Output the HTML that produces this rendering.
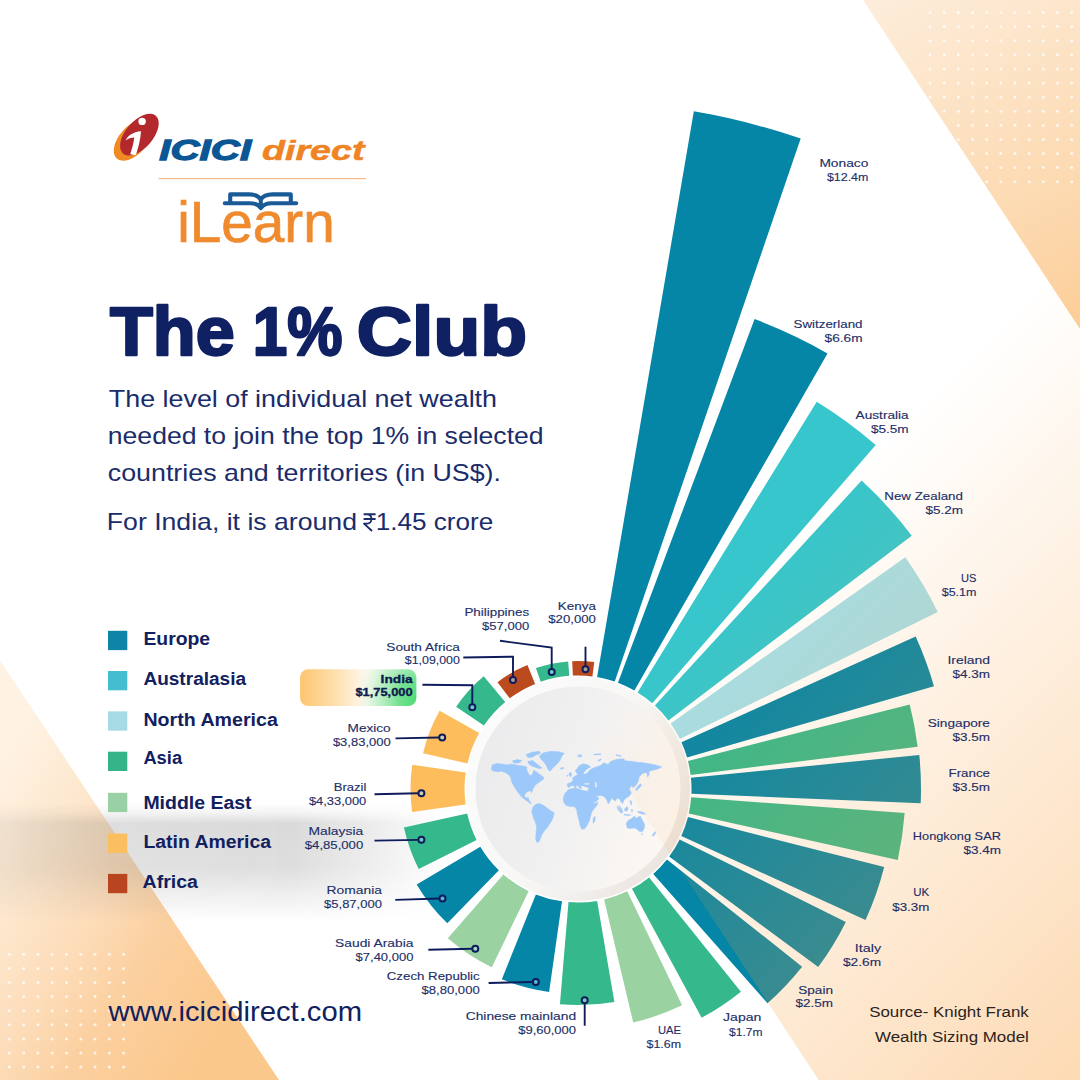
<!DOCTYPE html>
<html><head><meta charset="utf-8"><title>The 1% Club</title>
<style>
html,body{margin:0;padding:0;background:#fff;}
body{width:1080px;height:1080px;overflow:hidden;font-family:"Liberation Sans",sans-serif;}
svg{display:block;font-family:"Liberation Sans",sans-serif;}
</style></head><body>
<svg width="1080" height="1080" viewBox="0 0 1080 1080">
<defs>
<linearGradient id="gTR" gradientUnits="userSpaceOnUse" x1="900" y1="0" x2="1080" y2="330">
<stop offset="0" stop-color="#fdecd9"/><stop offset="1" stop-color="#fccf9a"/></linearGradient>
<linearGradient id="gBL" gradientUnits="userSpaceOnUse" x1="0" y1="760" x2="279" y2="940">
<stop offset="0" stop-color="#fff2e3"/><stop offset="0.3" stop-color="#fde6cb"/><stop offset="0.5" stop-color="#fddcb8"/><stop offset="0.68" stop-color="#fbd0a0"/><stop offset="1" stop-color="#fbc88c"/></linearGradient>
<linearGradient id="gOV" gradientUnits="userSpaceOnUse" x1="660" y1="660" x2="1080" y2="1080">
<stop offset="0" stop-color="#f9a03c" stop-opacity="0"/><stop offset="1" stop-color="#f9a03c" stop-opacity="0.39"/></linearGradient>
<linearGradient id="gSHv" x1="0" y1="0" x2="0" y2="1">
<stop offset="0" stop-color="#6b6b6b" stop-opacity="0"/><stop offset="0.08" stop-color="#6b6b6b" stop-opacity="0.08"/><stop offset="0.17" stop-color="#6b6b6b" stop-opacity="0.25"/><stop offset="0.55" stop-color="#6b6b6b" stop-opacity="0.22"/><stop offset="0.8" stop-color="#6b6b6b" stop-opacity="0.09"/><stop offset="1" stop-color="#6b6b6b" stop-opacity="0"/></linearGradient>
<linearGradient id="gSHm" x1="0" y1="0" x2="1" y2="0">
<stop offset="0" stop-color="#fff" stop-opacity="0.4"/><stop offset="0.25" stop-color="#fff" stop-opacity="0.9"/><stop offset="0.65" stop-color="#fff" stop-opacity="1"/><stop offset="0.85" stop-color="#fff" stop-opacity="0.45"/><stop offset="1" stop-color="#fff" stop-opacity="0"/></linearGradient>
<mask id="mSH" maskUnits="userSpaceOnUse" x="0" y="795" width="450" height="135"><rect x="0" y="795" width="450" height="135" fill="url(#gSHm)"/></mask>
<linearGradient id="gIN" x1="0" y1="0" x2="1" y2="0">
<stop offset="0" stop-color="#fdc56f"/><stop offset="0.3" stop-color="#fedfae"/><stop offset="0.58" stop-color="#fffaf2"/><stop offset="1" stop-color="#ffffff"/></linearGradient>
<radialGradient id="gIN2" gradientUnits="userSpaceOnUse" cx="416" cy="699" r="60" gradientTransform="translate(416 699) scale(1 1.15) translate(-416 -699)">
<stop offset="0" stop-color="#4edb75" stop-opacity="1"/><stop offset="0.3" stop-color="#6fe08c" stop-opacity="0.95"/><stop offset="0.62" stop-color="#a5ebb5" stop-opacity="0.7"/><stop offset="1" stop-color="#d6f6dc" stop-opacity="0"/></radialGradient>
<clipPath id="cIN"><rect x="300.1" y="669.3" width="116.3" height="36.7" rx="8"/></clipPath>
<linearGradient id="gCI" x1="0" y1="0.35" x2="1" y2="0.65">
<stop offset="0" stop-color="#ebebed"/><stop offset="0.5" stop-color="#f2f1f1"/><stop offset="1" stop-color="#fdf8f3"/></linearGradient>
<linearGradient id="gRIM" x1="0" y1="0.2" x2="1" y2="0.8">
<stop offset="0" stop-color="#fcfcfc"/><stop offset="0.5" stop-color="#f8f7f6"/><stop offset="1" stop-color="#e9e2dc"/></linearGradient>
<clipPath id="cTR"><polygon points="863,0 1080,0 1080,329"/></clipPath>
<clipPath id="cBL"><polygon points="0,660.5 279,1080 0,1080"/></clipPath>
</defs>
<rect width="1080" height="1080" fill="#fff"/>
<polygon points="863,0 1080,0 1080,329" fill="url(#gTR)"/>
<g fill="#fff" fill-opacity="0.75" clip-path="url(#cTR)"><circle cx="930.0" cy="12.5" r="1.5"/><circle cx="930.0" cy="26.6" r="1.5"/><circle cx="930.0" cy="40.7" r="1.5"/><circle cx="930.0" cy="54.8" r="1.5"/><circle cx="930.0" cy="68.9" r="1.5"/><circle cx="930.0" cy="83.0" r="1.5"/><circle cx="930.0" cy="97.1" r="1.5"/><circle cx="930.0" cy="111.2" r="1.5"/><circle cx="930.0" cy="125.3" r="1.5"/><circle cx="930.0" cy="139.4" r="1.5"/><circle cx="930.0" cy="153.5" r="1.5"/><circle cx="930.0" cy="167.6" r="1.5"/><circle cx="930.0" cy="181.7" r="1.5"/><circle cx="944.2" cy="12.5" r="1.5"/><circle cx="944.2" cy="26.6" r="1.5"/><circle cx="944.2" cy="40.7" r="1.5"/><circle cx="944.2" cy="54.8" r="1.5"/><circle cx="944.2" cy="68.9" r="1.5"/><circle cx="944.2" cy="83.0" r="1.5"/><circle cx="944.2" cy="97.1" r="1.5"/><circle cx="944.2" cy="111.2" r="1.5"/><circle cx="944.2" cy="125.3" r="1.5"/><circle cx="944.2" cy="139.4" r="1.5"/><circle cx="944.2" cy="153.5" r="1.5"/><circle cx="944.2" cy="167.6" r="1.5"/><circle cx="944.2" cy="181.7" r="1.5"/><circle cx="958.3" cy="12.5" r="1.5"/><circle cx="958.3" cy="26.6" r="1.5"/><circle cx="958.3" cy="40.7" r="1.5"/><circle cx="958.3" cy="54.8" r="1.5"/><circle cx="958.3" cy="68.9" r="1.5"/><circle cx="958.3" cy="83.0" r="1.5"/><circle cx="958.3" cy="97.1" r="1.5"/><circle cx="958.3" cy="111.2" r="1.5"/><circle cx="958.3" cy="125.3" r="1.5"/><circle cx="958.3" cy="139.4" r="1.5"/><circle cx="958.3" cy="153.5" r="1.5"/><circle cx="958.3" cy="167.6" r="1.5"/><circle cx="958.3" cy="181.7" r="1.5"/><circle cx="972.5" cy="12.5" r="1.5"/><circle cx="972.5" cy="26.6" r="1.5"/><circle cx="972.5" cy="40.7" r="1.5"/><circle cx="972.5" cy="54.8" r="1.5"/><circle cx="972.5" cy="68.9" r="1.5"/><circle cx="972.5" cy="83.0" r="1.5"/><circle cx="972.5" cy="97.1" r="1.5"/><circle cx="972.5" cy="111.2" r="1.5"/><circle cx="972.5" cy="125.3" r="1.5"/><circle cx="972.5" cy="139.4" r="1.5"/><circle cx="972.5" cy="153.5" r="1.5"/><circle cx="972.5" cy="167.6" r="1.5"/><circle cx="972.5" cy="181.7" r="1.5"/><circle cx="986.7" cy="12.5" r="1.5"/><circle cx="986.7" cy="26.6" r="1.5"/><circle cx="986.7" cy="40.7" r="1.5"/><circle cx="986.7" cy="54.8" r="1.5"/><circle cx="986.7" cy="68.9" r="1.5"/><circle cx="986.7" cy="83.0" r="1.5"/><circle cx="986.7" cy="97.1" r="1.5"/><circle cx="986.7" cy="111.2" r="1.5"/><circle cx="986.7" cy="125.3" r="1.5"/><circle cx="986.7" cy="139.4" r="1.5"/><circle cx="986.7" cy="153.5" r="1.5"/><circle cx="986.7" cy="167.6" r="1.5"/><circle cx="986.7" cy="181.7" r="1.5"/><circle cx="1000.9" cy="12.5" r="1.5"/><circle cx="1000.9" cy="26.6" r="1.5"/><circle cx="1000.9" cy="40.7" r="1.5"/><circle cx="1000.9" cy="54.8" r="1.5"/><circle cx="1000.9" cy="68.9" r="1.5"/><circle cx="1000.9" cy="83.0" r="1.5"/><circle cx="1000.9" cy="97.1" r="1.5"/><circle cx="1000.9" cy="111.2" r="1.5"/><circle cx="1000.9" cy="125.3" r="1.5"/><circle cx="1000.9" cy="139.4" r="1.5"/><circle cx="1000.9" cy="153.5" r="1.5"/><circle cx="1000.9" cy="167.6" r="1.5"/><circle cx="1000.9" cy="181.7" r="1.5"/><circle cx="1015.0" cy="12.5" r="1.5"/><circle cx="1015.0" cy="26.6" r="1.5"/><circle cx="1015.0" cy="40.7" r="1.5"/><circle cx="1015.0" cy="54.8" r="1.5"/><circle cx="1015.0" cy="68.9" r="1.5"/><circle cx="1015.0" cy="83.0" r="1.5"/><circle cx="1015.0" cy="97.1" r="1.5"/><circle cx="1015.0" cy="111.2" r="1.5"/><circle cx="1015.0" cy="125.3" r="1.5"/><circle cx="1015.0" cy="139.4" r="1.5"/><circle cx="1015.0" cy="153.5" r="1.5"/><circle cx="1015.0" cy="167.6" r="1.5"/><circle cx="1015.0" cy="181.7" r="1.5"/><circle cx="1029.2" cy="12.5" r="1.5"/><circle cx="1029.2" cy="26.6" r="1.5"/><circle cx="1029.2" cy="40.7" r="1.5"/><circle cx="1029.2" cy="54.8" r="1.5"/><circle cx="1029.2" cy="68.9" r="1.5"/><circle cx="1029.2" cy="83.0" r="1.5"/><circle cx="1029.2" cy="97.1" r="1.5"/><circle cx="1029.2" cy="111.2" r="1.5"/><circle cx="1029.2" cy="125.3" r="1.5"/><circle cx="1029.2" cy="139.4" r="1.5"/><circle cx="1029.2" cy="153.5" r="1.5"/><circle cx="1029.2" cy="167.6" r="1.5"/><circle cx="1029.2" cy="181.7" r="1.5"/><circle cx="1043.4" cy="12.5" r="1.5"/><circle cx="1043.4" cy="26.6" r="1.5"/><circle cx="1043.4" cy="40.7" r="1.5"/><circle cx="1043.4" cy="54.8" r="1.5"/><circle cx="1043.4" cy="68.9" r="1.5"/><circle cx="1043.4" cy="83.0" r="1.5"/><circle cx="1043.4" cy="97.1" r="1.5"/><circle cx="1043.4" cy="111.2" r="1.5"/><circle cx="1043.4" cy="125.3" r="1.5"/><circle cx="1043.4" cy="139.4" r="1.5"/><circle cx="1043.4" cy="153.5" r="1.5"/><circle cx="1043.4" cy="167.6" r="1.5"/><circle cx="1043.4" cy="181.7" r="1.5"/><circle cx="1057.5" cy="12.5" r="1.5"/><circle cx="1057.5" cy="26.6" r="1.5"/><circle cx="1057.5" cy="40.7" r="1.5"/><circle cx="1057.5" cy="54.8" r="1.5"/><circle cx="1057.5" cy="68.9" r="1.5"/><circle cx="1057.5" cy="83.0" r="1.5"/><circle cx="1057.5" cy="97.1" r="1.5"/><circle cx="1057.5" cy="111.2" r="1.5"/><circle cx="1057.5" cy="125.3" r="1.5"/><circle cx="1057.5" cy="139.4" r="1.5"/><circle cx="1057.5" cy="153.5" r="1.5"/><circle cx="1057.5" cy="167.6" r="1.5"/><circle cx="1057.5" cy="181.7" r="1.5"/><circle cx="1071.7" cy="12.5" r="1.5"/><circle cx="1071.7" cy="26.6" r="1.5"/><circle cx="1071.7" cy="40.7" r="1.5"/><circle cx="1071.7" cy="54.8" r="1.5"/><circle cx="1071.7" cy="68.9" r="1.5"/><circle cx="1071.7" cy="83.0" r="1.5"/><circle cx="1071.7" cy="97.1" r="1.5"/><circle cx="1071.7" cy="111.2" r="1.5"/><circle cx="1071.7" cy="125.3" r="1.5"/><circle cx="1071.7" cy="139.4" r="1.5"/><circle cx="1071.7" cy="153.5" r="1.5"/><circle cx="1071.7" cy="167.6" r="1.5"/><circle cx="1071.7" cy="181.7" r="1.5"/></g>
<polygon points="0,660.5 279,1080 0,1080" fill="url(#gBL)"/>
<g fill="#fff" fill-opacity="0.75" clip-path="url(#cBL)"><circle cx="9.4" cy="954.3" r="1.5"/><circle cx="9.4" cy="968.4" r="1.5"/><circle cx="9.4" cy="982.5" r="1.5"/><circle cx="9.4" cy="996.6" r="1.5"/><circle cx="9.4" cy="1010.7" r="1.5"/><circle cx="9.4" cy="1024.8" r="1.5"/><circle cx="9.4" cy="1038.9" r="1.5"/><circle cx="9.4" cy="1053.0" r="1.5"/><circle cx="9.4" cy="1067.1" r="1.5"/><circle cx="23.7" cy="954.3" r="1.5"/><circle cx="23.7" cy="968.4" r="1.5"/><circle cx="23.7" cy="982.5" r="1.5"/><circle cx="23.7" cy="996.6" r="1.5"/><circle cx="23.7" cy="1010.7" r="1.5"/><circle cx="23.7" cy="1024.8" r="1.5"/><circle cx="23.7" cy="1038.9" r="1.5"/><circle cx="23.7" cy="1053.0" r="1.5"/><circle cx="23.7" cy="1067.1" r="1.5"/><circle cx="37.9" cy="954.3" r="1.5"/><circle cx="37.9" cy="968.4" r="1.5"/><circle cx="37.9" cy="982.5" r="1.5"/><circle cx="37.9" cy="996.6" r="1.5"/><circle cx="37.9" cy="1010.7" r="1.5"/><circle cx="37.9" cy="1024.8" r="1.5"/><circle cx="37.9" cy="1038.9" r="1.5"/><circle cx="37.9" cy="1053.0" r="1.5"/><circle cx="37.9" cy="1067.1" r="1.5"/><circle cx="52.2" cy="954.3" r="1.5"/><circle cx="52.2" cy="968.4" r="1.5"/><circle cx="52.2" cy="982.5" r="1.5"/><circle cx="52.2" cy="996.6" r="1.5"/><circle cx="52.2" cy="1010.7" r="1.5"/><circle cx="52.2" cy="1024.8" r="1.5"/><circle cx="52.2" cy="1038.9" r="1.5"/><circle cx="52.2" cy="1053.0" r="1.5"/><circle cx="52.2" cy="1067.1" r="1.5"/><circle cx="66.5" cy="954.3" r="1.5"/><circle cx="66.5" cy="968.4" r="1.5"/><circle cx="66.5" cy="982.5" r="1.5"/><circle cx="66.5" cy="996.6" r="1.5"/><circle cx="66.5" cy="1010.7" r="1.5"/><circle cx="66.5" cy="1024.8" r="1.5"/><circle cx="66.5" cy="1038.9" r="1.5"/><circle cx="66.5" cy="1053.0" r="1.5"/><circle cx="66.5" cy="1067.1" r="1.5"/><circle cx="80.8" cy="954.3" r="1.5"/><circle cx="80.8" cy="968.4" r="1.5"/><circle cx="80.8" cy="982.5" r="1.5"/><circle cx="80.8" cy="996.6" r="1.5"/><circle cx="80.8" cy="1010.7" r="1.5"/><circle cx="80.8" cy="1024.8" r="1.5"/><circle cx="80.8" cy="1038.9" r="1.5"/><circle cx="80.8" cy="1053.0" r="1.5"/><circle cx="80.8" cy="1067.1" r="1.5"/><circle cx="95.0" cy="954.3" r="1.5"/><circle cx="95.0" cy="968.4" r="1.5"/><circle cx="95.0" cy="982.5" r="1.5"/><circle cx="95.0" cy="996.6" r="1.5"/><circle cx="95.0" cy="1010.7" r="1.5"/><circle cx="95.0" cy="1024.8" r="1.5"/><circle cx="95.0" cy="1038.9" r="1.5"/><circle cx="95.0" cy="1053.0" r="1.5"/><circle cx="95.0" cy="1067.1" r="1.5"/><circle cx="109.3" cy="954.3" r="1.5"/><circle cx="109.3" cy="968.4" r="1.5"/><circle cx="109.3" cy="982.5" r="1.5"/><circle cx="109.3" cy="996.6" r="1.5"/><circle cx="109.3" cy="1010.7" r="1.5"/><circle cx="109.3" cy="1024.8" r="1.5"/><circle cx="109.3" cy="1038.9" r="1.5"/><circle cx="109.3" cy="1053.0" r="1.5"/><circle cx="109.3" cy="1067.1" r="1.5"/><circle cx="123.6" cy="954.3" r="1.5"/><circle cx="123.6" cy="968.4" r="1.5"/><circle cx="123.6" cy="982.5" r="1.5"/><circle cx="123.6" cy="996.6" r="1.5"/><circle cx="123.6" cy="1010.7" r="1.5"/><circle cx="123.6" cy="1024.8" r="1.5"/><circle cx="123.6" cy="1038.9" r="1.5"/><circle cx="123.6" cy="1053.0" r="1.5"/><circle cx="123.6" cy="1067.1" r="1.5"/></g>
<rect x="0" y="803" width="440" height="120" fill="url(#gSHv)" mask="url(#mSH)"/>
<g id="bars">
<path d="M597.12 677.12 L693.84 111.33 A687.50 687.50 0 0 1 800.69 138.57 L614.76 681.62 A113.50 113.50 0 0 0 597.12 677.12 Z" fill="#0586a6"/>
<path d="M617.93 682.76 L754.62 319.10 A502.00 502.00 0 0 1 827.48 353.38 L634.41 690.51 A113.50 113.50 0 0 0 617.93 682.76 Z" fill="#0586a6"/>
<path d="M637.56 692.38 L816.75 401.67 A455.00 455.00 0 0 1 875.73 444.93 L652.27 703.17 A113.50 113.50 0 0 0 637.56 692.38 Z" fill="#37c6cb"/>
<path d="M654.83 705.45 L861.61 480.58 A419.00 419.00 0 0 1 911.75 535.67 L668.41 720.38 A113.50 113.50 0 0 0 654.83 705.45 Z" fill="#37c6cb"/>
<path d="M670.63 723.41 L905.27 557.28 A401.00 401.00 0 0 1 937.80 611.96 L679.84 738.89 A113.50 113.50 0 0 0 670.63 723.41 Z" fill="#a6dee6"/>
<path d="M681.44 742.29 L915.67 636.53 A370.50 370.50 0 0 1 933.97 686.25 L687.05 757.52 A113.50 113.50 0 0 0 681.44 742.29 Z" fill="#0586a6"/>
<path d="M687.98 760.97 L909.69 704.45 A342.30 342.30 0 0 1 917.68 746.69 L690.63 774.97 A113.50 113.50 0 0 0 687.98 760.97 Z" fill="#35b88c"/>
<path d="M690.94 777.73 L919.30 754.93 A343.00 343.00 0 0 1 920.70 803.36 L691.40 793.75 A113.50 113.50 0 0 0 690.94 777.73 Z" fill="#0586a6"/>
<path d="M691.20 797.31 L904.62 812.99 A327.50 327.50 0 0 1 897.74 859.88 L688.81 813.57 A113.50 113.50 0 0 0 691.20 797.31 Z" fill="#35b88c"/>
<path d="M687.98 817.03 L884.21 867.05 A316.00 316.00 0 0 1 865.55 920.04 L681.28 836.07 A113.50 113.50 0 0 0 687.98 817.03 Z" fill="#0586a6"/>
<path d="M679.66 839.47 L845.82 921.95 A299.00 299.00 0 0 1 818.20 967.06 L669.18 856.59 A113.50 113.50 0 0 0 679.66 839.47 Z" fill="#0586a6"/>
<path d="M666.95 859.50 L802.14 966.65 A286.00 286.00 0 0 1 767.51 1003.20 L653.21 874.01 A113.50 113.50 0 0 0 666.95 859.50 Z" fill="#0586a6"/>
<path d="M649.12 877.45 L740.92 991.63 A260.00 260.00 0 0 1 701.66 1017.71 L631.98 888.84 A113.50 113.50 0 0 0 649.12 877.45 Z" fill="#35b88c"/>
<path d="M627.22 891.27 L682.08 1005.26 A240.00 240.00 0 0 1 633.21 1022.56 L604.11 899.46 A113.50 113.50 0 0 0 627.22 891.27 Z" fill="#9bd2a1"/>
<path d="M597.12 900.88 L614.39 1001.91 A216.00 216.00 0 0 1 559.93 1004.24 L568.50 902.10 A113.50 113.50 0 0 0 597.12 900.88 Z" fill="#35b88c"/>
<path d="M562.01 901.37 L549.12 991.95 A205.00 205.00 0 0 1 501.87 979.34 L535.85 894.38 A113.50 113.50 0 0 0 562.01 901.37 Z" fill="#0586a6"/>
<path d="M528.60 891.19 L491.82 967.26 A198.00 198.00 0 0 1 447.84 938.21 L503.39 874.53 A113.50 113.50 0 0 0 528.60 891.19 Z" fill="#9bd2a1"/>
<path d="M498.87 870.37 L447.35 923.35 A187.40 187.40 0 0 1 416.70 884.39 L480.31 846.78 A113.50 113.50 0 0 0 498.87 870.37 Z" fill="#0586a6"/>
<path d="M476.60 840.00 L418.71 869.11 A178.30 178.30 0 0 1 403.93 827.59 L467.19 813.57 A113.50 113.50 0 0 0 476.60 840.00 Z" fill="#35b88c"/>
<path d="M465.58 804.60 L412.09 812.02 A167.50 167.50 0 0 1 412.25 764.82 L465.69 772.62 A113.50 113.50 0 0 0 465.58 804.60 Z" fill="#fdbd5c"/>
<path d="M467.41 763.47 L423.08 753.23 A159.00 159.00 0 0 1 439.61 710.70 L479.21 733.11 A113.50 113.50 0 0 0 467.41 763.47 Z" fill="#fdbd5c"/>
<path d="M483.90 725.53 L456.13 706.80 A147.00 147.00 0 0 1 483.71 676.23 L505.20 701.93 A113.50 113.50 0 0 0 483.90 725.53 Z" fill="#35b88c"/>
<path d="M509.69 698.35 L497.48 682.14 A133.80 133.80 0 0 1 527.44 665.12 L535.12 683.91 A113.50 113.50 0 0 0 509.69 698.35 Z" fill="#bb4a1f"/>
<path d="M540.67 681.81 L535.91 668.12 A128.00 128.00 0 0 1 568.18 661.38 L569.29 675.83 A113.50 113.50 0 0 0 540.67 681.81 Z" fill="#35b88c"/>
<path d="M572.85 675.62 L572.19 661.13 A128.00 128.00 0 0 1 594.26 662.04 L592.42 676.42 A113.50 113.50 0 0 0 572.85 675.62 Z" fill="#bb4a1f"/>
</g>
<circle cx="578.0" cy="789.0" r="112" fill="url(#gRIM)"/>
<circle cx="578.0" cy="789.0" r="102.5" fill="url(#gCI)"/>
<polygon points="109.5,0 1080,0 1080,1080 818.6,1080" fill="url(#gOV)"/>
<g fill="#9cc8fa" stroke="#9cc8fa" stroke-width="0.5" stroke-linejoin="round">
<polygon points="491.3,768.3 492.3,764.9 496.7,763.5 502.5,764.0 507.4,764.9 511.3,764.0 514.2,764.5 518.1,765.4 522.9,765.9 526.8,766.9 526.8,770.3 528.8,774.2 531.2,776.1 532.7,773.2 533.6,770.3 535.6,771.3 539.5,774.2 543.4,777.1 543.9,779.0 541.4,780.5 539.0,782.5 536.6,783.9 534.1,786.8 532.7,789.7 531.5,792.7 530.7,790.7 528.8,791.2 525.9,792.7 524.4,795.6 525.9,798.0 528.3,797.5 528.8,799.5 530.2,801.9 531.7,803.4 530.2,803.4 527.8,801.4 524.9,799.5 522.0,797.5 519.0,793.6 516.1,789.7 513.7,785.9 511.8,782.0 510.8,778.1 509.3,775.2 505.9,772.7 501.5,771.3 497.6,771.8 494.7,771.3 492.3,770.8"/>
<polygon points="512.2,761.1 517.1,759.6 522.0,760.6 519.0,763.0 514.2,763.0"/>
<polygon points="525.9,754.7 531.7,752.3 539.5,751.3 540.4,753.3 535.6,755.2 531.7,757.6 527.8,757.2"/>
<polygon points="527.8,761.5 532.7,760.6 535.6,763.0 539.5,765.9 541.9,767.9 539.5,768.8 535.6,767.4 531.7,765.9 528.8,764.0"/>
<polygon points="539.5,755.7 543.4,752.8 551.1,751.3 558.9,751.8 564.3,753.3 561.8,756.2 559.9,760.6 557.0,764.0 553.1,767.4 550.2,771.3 548.2,769.8 546.3,765.4 543.4,761.5 540.4,758.6"/>
<polygon points="532.7,807.3 535.6,804.3 539.5,803.4 543.4,805.3 547.3,808.2 551.1,811.1 554.1,812.6 553.6,816.0 552.1,819.9 549.7,823.8 547.3,827.7 544.3,831.1 541.9,834.5 540.4,838.4 539.0,841.8 536.6,842.3 535.6,838.4 536.1,832.5 536.6,826.7 535.1,821.8 533.2,817.0 531.7,812.1"/>
<polygon points="560.4,767.9 563.8,767.4 563.3,768.8 560.9,769.1"/>
<polygon points="563.1,799.0 564.6,793.9 568.1,789.8 573.2,788.3 578.3,788.8 581.9,790.3 585.5,790.8 588.5,791.9 590.6,795.9 592.1,800.5 594.6,803.6 598.2,802.0 597.2,805.1 594.1,808.7 591.6,812.2 590.6,816.3 589.5,820.4 587.0,825.5 584.4,829.0 581.4,829.0 579.9,824.4 578.8,819.4 577.3,814.3 576.8,809.7 574.3,806.6 569.7,806.6 565.6,805.1 563.6,802.0"/>
<polygon points="593.1,818.3 595.1,816.3 595.1,820.4 593.1,823.4"/>
<polygon points="567.1,785.7 567.6,783.7 571.2,782.2 573.2,780.1 572.2,778.1 575.3,776.1 577.8,774.5 576.3,772.5 575.3,770.5 577.3,768.4 579.4,765.4 583.4,763.8 588.0,764.9 590.6,766.9 587.0,768.9 584.4,771.5 582.9,774.5 586.5,773.5 590.6,769.4 594.6,767.4 600.7,765.4 603.8,762.8 607.9,764.4 610.9,761.3 617.0,759.3 623.7,758.8 625.2,760.8 631.3,761.3 637.4,762.3 643.5,762.8 649.6,763.8 655.7,764.9 661.9,766.9 657.8,768.9 653.7,770.0 649.6,771.0 647.6,774.5 646.1,772.5 642.5,773.5 639.4,776.6 638.4,780.6 636.4,784.7 633.3,787.8 631.3,785.7 629.3,788.8 631.3,792.9 629.3,795.9 626.2,798.0 623.7,800.5 622.6,803.6 621.1,802.0 619.6,799.0 617.0,798.0 615.5,801.0 613.5,800.0 611.9,798.0 609.9,801.5 608.4,804.1 606.9,800.5 604.8,796.9 601.3,795.4 597.7,795.9 595.6,793.9 597.2,796.9 599.2,798.5 595.6,802.0 592.6,802.0 590.6,798.0 589.0,792.9 587.5,790.3 589.5,787.8 586.5,787.3 583.4,785.7 580.4,786.3 581.9,788.8 579.4,787.8 577.3,785.2 575.8,786.8 576.8,789.8 574.8,787.8 573.2,785.2 570.2,786.3 568.7,787.8"/>
<polygon points="568.7,774.5 570.2,772.0 571.7,774.0 570.7,777.1"/>
<polygon points="566.6,775.6 567.9,775.0 567.7,776.8"/>
<polygon points="635.4,789.8 637.4,786.8 640.5,783.7 641.5,785.2 638.9,788.3 636.4,790.8"/>
<polygon points="647.1,775.6 648.6,772.5 649.4,773.5 647.8,777.1"/>
<polygon points="618.6,805.1 621.1,808.1 623.1,812.2 621.6,811.2 619.6,808.1"/>
<polygon points="617.0,806.1 619.6,809.2 622.1,812.7 621.1,813.2 618.1,809.7"/>
<polygon points="624.7,808.7 627.2,806.6 628.2,808.7 626.7,811.2 624.7,810.7"/>
<polygon points="630.3,800.0 631.8,802.0 631.3,805.1 630.3,803.1"/>
<polygon points="624.2,814.3 630.3,814.8 630.3,815.5 624.2,815.1"/>
<polygon points="631.3,809.2 632.8,810.2 631.8,812.2"/>
<polygon points="637.4,811.2 641.5,811.7 645.6,813.8 643.0,814.3 638.9,813.0"/>
<polygon points="626.2,823.4 628.2,820.4 631.3,818.8 634.4,816.3 636.4,818.3 638.4,816.8 640.5,816.3 642.5,820.4 644.5,823.9 644.5,827.5 642.5,831.6 639.4,831.6 637.4,829.5 634.4,828.0 630.3,828.5 627.2,828.0"/>
<polygon points="654.2,832.6 655.7,831.6 655.2,834.1 653.2,836.2 652.2,835.6"/>
<polygon points="641.5,833.6 642.7,833.8 642.1,835.1"/>
<polygon points="598.2,760.3 600.7,758.8 601.3,759.8 598.7,761.3"/>
<polygon points="593.6,754.2 600.7,753.7 600.7,754.4 594.1,755.0"/>
<polygon points="577.8,755.2 581.9,754.7 581.4,756.7 578.3,757.0"/>
<polygon points="616.0,754.7 621.1,755.7 620.9,756.4 616.0,755.4"/>
<polygon points="594.6,782.2 596.7,781.9 597.1,787.3 595.2,787.6" fill="#f3f2f2"/>
<polygon points="583.9,783.2 589.0,782.9 589.5,784.5 585.0,784.9" fill="#f3f2f2"/>
</g>
<g fill="none" stroke="#0f1c5c" stroke-width="1.9">
<polyline points="374.5,840.6 418.4,839.9"/>
<polyline points="374.5,794.2 418.4,793.3"/>
<polyline points="395.5,738.4 439.2,737.5"/>
<polyline points="395.3,899.9 439.5,898.5"/>
<polyline points="428.3,949.8 472.3,948.8"/>
<polyline points="488.6,983.0 532.8,982.0"/>
<polyline points="584.7,1025.7 584.7,1003.3"/>
<polyline points="422.4,684.8 472.3,685.2 472.3,704.2"/>
<polyline points="463.3,657.5 513.0,656.7 513.0,677.0"/>
<polyline points="500.0,640.8 551.7,647.5 551.7,669.0"/>
<polyline points="585.5,646.7 585.5,666.2"/>
</g>
<g fill="#a6dcee" fill-opacity="0.55" stroke="#0f1c5c" stroke-width="2">
<circle cx="421.4" cy="839.8" r="3"/>
<circle cx="421.4" cy="793.2" r="3"/>
<circle cx="442.2" cy="737.4" r="3"/>
<circle cx="442.5" cy="898.4" r="3"/>
<circle cx="475.3" cy="948.7" r="3"/>
<circle cx="535.8" cy="981.9" r="3"/>
<circle cx="584.7" cy="1000.3" r="3"/>
<circle cx="472.3" cy="707.2" r="3"/>
<circle cx="513.0" cy="680.0" r="3"/>
<circle cx="551.7" cy="672.0" r="3"/>
<circle cx="585.5" cy="669.2" r="3"/>
</g>
<rect x="300.1" y="669.3" width="116.3" height="36.7" rx="8" fill="url(#gIN)"/>
<rect x="340" y="660" width="90" height="60" fill="url(#gIN2)" clip-path="url(#cIN)"/>
<g font-size="11.2" fill="#222e66" stroke="#222e66" stroke-width="0.12">
<text x="819.4" y="166.7" textLength="49.0" lengthAdjust="spacingAndGlyphs">Monaco</text>
<text x="826.9" y="180.6" textLength="41.5" lengthAdjust="spacingAndGlyphs">$12.4m</text>
<text x="793.5" y="327.7" textLength="69.0" lengthAdjust="spacingAndGlyphs">Switzerland</text>
<text x="824.6" y="341.9" textLength="37.9" lengthAdjust="spacingAndGlyphs">$6.6m</text>
<text x="855.6" y="418.7" textLength="53.1" lengthAdjust="spacingAndGlyphs">Australia</text>
<text x="870.9" y="432.6" textLength="37.8" lengthAdjust="spacingAndGlyphs">$5.5m</text>
<text x="884.3" y="499.7" textLength="78.6" lengthAdjust="spacingAndGlyphs">New Zealand</text>
<text x="925.4" y="513.6" textLength="37.5" lengthAdjust="spacingAndGlyphs">$5.2m</text>
<text x="961.1" y="581.8" textLength="15.4" lengthAdjust="spacingAndGlyphs">US</text>
<text x="941.7" y="595.5" textLength="34.8" lengthAdjust="spacingAndGlyphs">$5.1m</text>
<text x="947.4" y="664.2" textLength="42.6" lengthAdjust="spacingAndGlyphs">Ireland</text>
<text x="952.5" y="678.0" textLength="37.5" lengthAdjust="spacingAndGlyphs">$4.3m</text>
<text x="927.7" y="727.0" textLength="62.3" lengthAdjust="spacingAndGlyphs">Singapore</text>
<text x="952.5" y="740.8" textLength="37.5" lengthAdjust="spacingAndGlyphs">$3.5m</text>
<text x="948.5" y="776.9" textLength="41.5" lengthAdjust="spacingAndGlyphs">France</text>
<text x="952.5" y="790.7" textLength="37.5" lengthAdjust="spacingAndGlyphs">$3.5m</text>
<text x="912.8" y="840.0" textLength="88.1" lengthAdjust="spacingAndGlyphs">Hongkong SAR</text>
<text x="963.4" y="854.0" textLength="37.5" lengthAdjust="spacingAndGlyphs">$3.4m</text>
<text x="913.3" y="896.3" textLength="16.0" lengthAdjust="spacingAndGlyphs">UK</text>
<text x="892.3" y="910.6" textLength="37.0" lengthAdjust="spacingAndGlyphs">$3.3m</text>
<text x="854.8" y="952.0" textLength="26.3" lengthAdjust="spacingAndGlyphs">Italy</text>
<text x="843.0" y="965.6" textLength="38.1" lengthAdjust="spacingAndGlyphs">$2.6m</text>
<text x="798.2" y="993.7" textLength="34.8" lengthAdjust="spacingAndGlyphs">Spain</text>
<text x="795.5" y="1007.0" textLength="37.5" lengthAdjust="spacingAndGlyphs">$2.5m</text>
<text x="723.0" y="1021.4" textLength="38.4" lengthAdjust="spacingAndGlyphs">Japan</text>
<text x="729.0" y="1035.5" textLength="33.5" lengthAdjust="spacingAndGlyphs">$1.7m</text>
<text x="657.9" y="1033.8" textLength="23.2" lengthAdjust="spacingAndGlyphs">UAE</text>
<text x="646.5" y="1047.7" textLength="34.6" lengthAdjust="spacingAndGlyphs">$1.6m</text>
<text x="465.7" y="1019.6" textLength="110.4" lengthAdjust="spacingAndGlyphs">Chinese mainland</text>
<text x="518.2" y="1033.5" textLength="57.9" lengthAdjust="spacingAndGlyphs">$9,60,000</text>
<text x="386.8" y="980.0" textLength="92.9" lengthAdjust="spacingAndGlyphs">Czech Republic</text>
<text x="421.5" y="993.6" textLength="58.2" lengthAdjust="spacingAndGlyphs">$8,80,000</text>
<text x="335.1" y="946.5" textLength="78.3" lengthAdjust="spacingAndGlyphs">Saudi Arabia</text>
<text x="355.6" y="961.0" textLength="57.8" lengthAdjust="spacingAndGlyphs">$7,40,000</text>
<text x="326.6" y="893.5" textLength="55.3" lengthAdjust="spacingAndGlyphs">Romania</text>
<text x="324.1" y="907.5" textLength="57.8" lengthAdjust="spacingAndGlyphs">$5,87,000</text>
<text x="308.5" y="835.2" textLength="54.7" lengthAdjust="spacingAndGlyphs">Malaysia</text>
<text x="304.8" y="848.8" textLength="58.4" lengthAdjust="spacingAndGlyphs">$4,85,000</text>
<text x="333.7" y="790.7" textLength="32.6" lengthAdjust="spacingAndGlyphs">Brazil</text>
<text x="308.9" y="804.6" textLength="57.4" lengthAdjust="spacingAndGlyphs">$4,33,000</text>
<text x="347.6" y="731.7" textLength="43.1" lengthAdjust="spacingAndGlyphs">Mexico</text>
<text x="332.9" y="745.5" textLength="57.8" lengthAdjust="spacingAndGlyphs">$3,83,000</text>
<text x="386.3" y="650.6" textLength="73.6" lengthAdjust="spacingAndGlyphs">South Africa</text>
<text x="404.8" y="664.4" textLength="55.1" lengthAdjust="spacingAndGlyphs">$1,09,000</text>
<text x="464.4" y="615.8" textLength="64.8" lengthAdjust="spacingAndGlyphs">Philippines</text>
<text x="482.1" y="629.7" textLength="47.1" lengthAdjust="spacingAndGlyphs">$57,000</text>
<text x="557.8" y="609.7" textLength="38.1" lengthAdjust="spacingAndGlyphs">Kenya</text>
<text x="548.3" y="623.3" textLength="47.6" lengthAdjust="spacingAndGlyphs">$20,000</text>
</g>
<g font-size="11.4" font-weight="bold" fill="#0e1a4e" stroke="#0e1a4e" stroke-width="0.35">
<text x="380.6" y="682.8" textLength="32" lengthAdjust="spacingAndGlyphs">India</text>
<text x="355.4" y="696.4" textLength="57.2" lengthAdjust="spacingAndGlyphs">$1,75,000</text>
</g>
<g font-size="17.5" font-weight="bold" fill="#11205e">
<rect x="108" y="630.8" width="19.3" height="19.3" fill="#0e85a6"/><text x="143.4" y="644.7" textLength="66.7" lengthAdjust="spacingAndGlyphs">Europe</text>
<rect x="108" y="671.0" width="19.3" height="19.3" fill="#45bdd0"/><text x="143.4" y="685.0" textLength="102.7" lengthAdjust="spacingAndGlyphs">Australasia</text>
<rect x="108" y="711.4" width="19.3" height="19.3" fill="#a6dbe6"/><text x="143.4" y="726.0" textLength="134.4" lengthAdjust="spacingAndGlyphs">North America</text>
<rect x="108" y="751.7" width="19.3" height="19.3" fill="#35b489"/><text x="143.4" y="764.2" textLength="38.7" lengthAdjust="spacingAndGlyphs">Asia</text>
<rect x="108" y="792.8" width="19.3" height="19.3" fill="#9ad1a4"/><text x="143.4" y="808.6" textLength="108.2" lengthAdjust="spacingAndGlyphs">Middle East</text>
<rect x="108" y="833.6" width="19.3" height="19.3" fill="#fbbf5f"/><text x="143.4" y="847.5" textLength="127.7" lengthAdjust="spacingAndGlyphs">Latin America</text>
<rect x="108" y="873.9" width="19.3" height="19.3" fill="#b94520"/><text x="142.6" y="888.3" textLength="55.4" lengthAdjust="spacingAndGlyphs">Africa</text>

</g>
<!-- logo -->
<g id="logo">
<g transform="translate(133.3,140.0) rotate(-48)"><ellipse cx="0" cy="0" rx="24.8" ry="14" fill="#f08a24"/></g>
<g transform="translate(139.4,134.6) rotate(-49)"><ellipse cx="0" cy="0" rx="25" ry="13.6" fill="#b3282d"/></g>
<circle cx="142.1" cy="121.4" r="3.7" fill="#fff"/>
<path d="M125.5 140.5 C128 135.5 133 131.8 141 131.2 C140.5 139 138.5 147.5 135.8 155.2 L130.2 154.2 C132.4 148 133.8 142.5 134.2 137.6 C131 137.6 128 138.8 125.5 140.5 Z" fill="#fff"/>
<text x="159.3" y="160.3" font-size="30.4" font-weight="bold" font-style="italic" fill="#0b5796" stroke="#0b5796" stroke-width="1.3" textLength="91.8" lengthAdjust="spacingAndGlyphs">ICICI</text>
<text x="262" y="160.3" font-size="28" font-weight="bold" font-style="italic" fill="#f08425" stroke="#f08425" stroke-width="0.5" textLength="102.5" lengthAdjust="spacingAndGlyphs">direct</text>
<rect x="158.5" y="178" width="207.5" height="1.2" fill="#f6b98a"/>
<text x="177.2" y="242" font-size="57.5" fill="#f08a2e" stroke="#f08a2e" stroke-width="0.7" textLength="157.5" lengthAdjust="spacingAndGlyphs">iLearn</text>
<path d="M224.8 203.3 H250 C255 203.3 258.5 205 260.8 208 C263 205 266.5 203.3 271.5 203.3 H296.2 M230.2 203.3 V194.4 H249 C254.5 194.4 258.5 196 260.8 199.5 C263 196 267 194.4 272.5 194.4 H290.8 V203.3 M260.8 199.5 V207" fill="none" stroke="#1a5a96" stroke-width="4.1" stroke-linejoin="round" stroke-linecap="round"/>
</g>
<g font-size="68.2" font-weight="bold" fill="#0f2163" stroke="#0f2163" stroke-width="2.4" stroke-linejoin="round">
<text x="110.0" y="354.5" textLength="124.7" lengthAdjust="spacingAndGlyphs">The</text>
<text x="252.75" y="354.5" textLength="89.7" lengthAdjust="spacingAndGlyphs">1%</text>
<text x="356.8" y="354.5" textLength="170.2" lengthAdjust="spacingAndGlyphs">Club</text>
</g>
<g font-size="24" fill="#1a2c6b">
<text x="108.8" y="406.7" textLength="388.2" lengthAdjust="spacingAndGlyphs">The level of individual net wealth</text>
<text x="107.8" y="443.6" textLength="435.8" lengthAdjust="spacingAndGlyphs">needed to join the top 1% in selected</text>
<text x="107.8" y="480.7" textLength="393.2" lengthAdjust="spacingAndGlyphs">countries and territories (in US$).</text>
<text x="106.8" y="530.4" textLength="250.2" lengthAdjust="spacingAndGlyphs">For India, it is around</text>
<text x="375.7" y="530.4" textLength="117.6" lengthAdjust="spacingAndGlyphs">1.45 crore</text>
<path d="M363.6 514.2 H375.6 M363.6 519 H375.6 M364 514.2 H367.2 C372.8 514.2 372.8 523.6 367.2 523.6 H364 L372 531" fill="none" stroke="#1a2c6b" stroke-width="1.9" stroke-linejoin="round"/>
</g>
<text x="108.6" y="1021.2" font-size="28" fill="#11205e" textLength="253.4" lengthAdjust="spacingAndGlyphs">www.icicidirect.com</text>
<g font-size="15.5" fill="#2b2320">
<text x="869.2" y="1016.9" textLength="159.6" lengthAdjust="spacingAndGlyphs">Source- Knight Frank</text>
<text x="875" y="1042.4" textLength="153.8" lengthAdjust="spacingAndGlyphs">Wealth Sizing Model</text>
</g>
</svg>
</body></html>
